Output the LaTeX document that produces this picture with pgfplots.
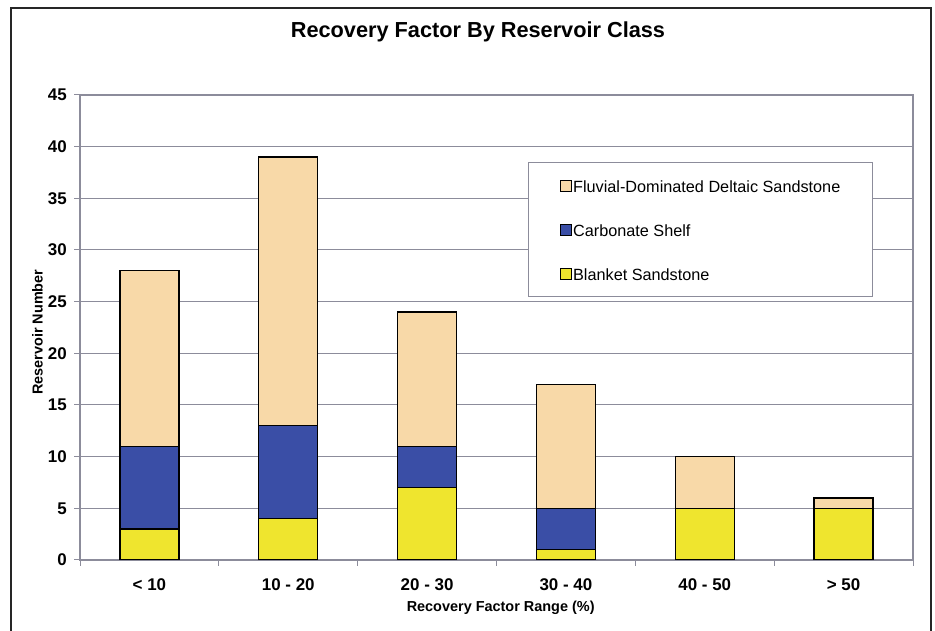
\documentclass[border=0pt]{standalone}
\usepackage{pgfplots}
\usepackage{pgfplotstable}
\pgfplotsset{compat=1.18}
\usepackage{fontspec}
\setmainfont{Liberation Sans}

\definecolor{fluvial}{RGB}{248,217,168}
\definecolor{carbonate}{RGB}{58,78,166}
\definecolor{blanket}{RGB}{239,229,46}
\definecolor{gridgray}{RGB}{140,140,155}

% reservoir counts per recovery-factor class
\pgfplotstableread{
x blanket carbonate fluvial
0 3 8 17
1 4 9 26
2 7 4 13
3 1 4 12
4 5 0 5
5 5 0 1
}\rfdata

\begin{document}
\begin{tikzpicture}[x=1bp,y=1bp]
\useasboundingbox (0,0) rectangle (935,631);
\draw[line width=2.5bp, black!85] (11,-10) -- (11,623) -- (931,623) -- (931,-10);
\node[font=\bfseries\fontsize{21.8}{26}\selectfont, anchor=base, inner sep=0pt] at (478,593) {Recovery Factor By Reservoir Class};
\begin{axis}[
  at={(80bp,71bp)}, anchor=south west,
  width=833bp, height=465bp, scale only axis,
  ybar stacked, bar width=0.425,
  xmin=-0.5, xmax=5.5, ymin=0, ymax=45,
  ytick={0,5,...,45},
  xtick={0,...,5},
  xticklabels={{< 10},{10 - 20},{20 - 30},{30 - 40},{40 - 50},{> 50}},
  minor xtick={-0.5,0.5,...,5.5},
  xtick pos=bottom, ytick pos=left,
  tick align=outside,
  major tick length=6bp, minor tick length=6bp,
  major x tick style={draw=none},
  minor x tick style={gridgray, line width=1bp},
  y tick style={gridgray, line width=1bp},
  ymajorgrids, grid style={gridgray, line width=1bp},
  axis line style={gridgray, line width=1.2bp},
  /pgf/number format/assume math mode=true,
  ticklabel style={font=\bfseries\fontsize{17}{20}\selectfont, text=black},
  yticklabel style={inner sep=0pt, xshift=-7bp},
  xticklabel style={anchor=base, inner sep=0pt, yshift=-25bp},
  label style={font=\bfseries\fontsize{14.5}{17}\selectfont},
  xlabel={Recovery Factor Range (\%)},
  ylabel={Reservoir Number},
  xlabel style={at={(axis description cs:0.505,-0.1097)}, anchor=base, inner sep=0pt},
  ylabel style={at={(axis description cs:-0.0444,0.490)}, anchor=south, inner sep=0pt},
  reverse legend,
  legend style={at={(0.538,0.856)}, anchor=north west, draw=gridgray, line width=1bp,
    fill=white, inner xsep=31bp, inner ysep=15bp, row sep=27.5bp,
    font=\fontsize{16.3}{20}\selectfont,
    nodes={text height=13.5bp, text depth=0pt, inner sep=1.5bp}},
  legend cell align=left,
  every axis plot/.append style={draw=black, line width=1.3bp},
]
\addplot[fill=blanket, legend image code/.code={\draw[fill=blanket, draw=black, line width=1bp] (0bp,-5.5bp) rectangle (11bp,5.5bp);}] table[x=x, y=blanket] {\rfdata};
\addplot[fill=carbonate, legend image code/.code={\draw[fill=carbonate, draw=black, line width=1bp] (0bp,-5.5bp) rectangle (11bp,5.5bp);}] table[x=x, y=carbonate] {\rfdata};
\addplot[fill=fluvial, legend image code/.code={\draw[fill=fluvial, draw=black, line width=1bp] (0bp,-5.5bp) rectangle (11bp,5.5bp);}] table[x=x, y=fluvial] {\rfdata};
\legend{Blanket Sandstone, Carbonate Shelf, Fluvial-Dominated Deltaic Sandstone}
\end{axis}
\end{tikzpicture}
\end{document}
